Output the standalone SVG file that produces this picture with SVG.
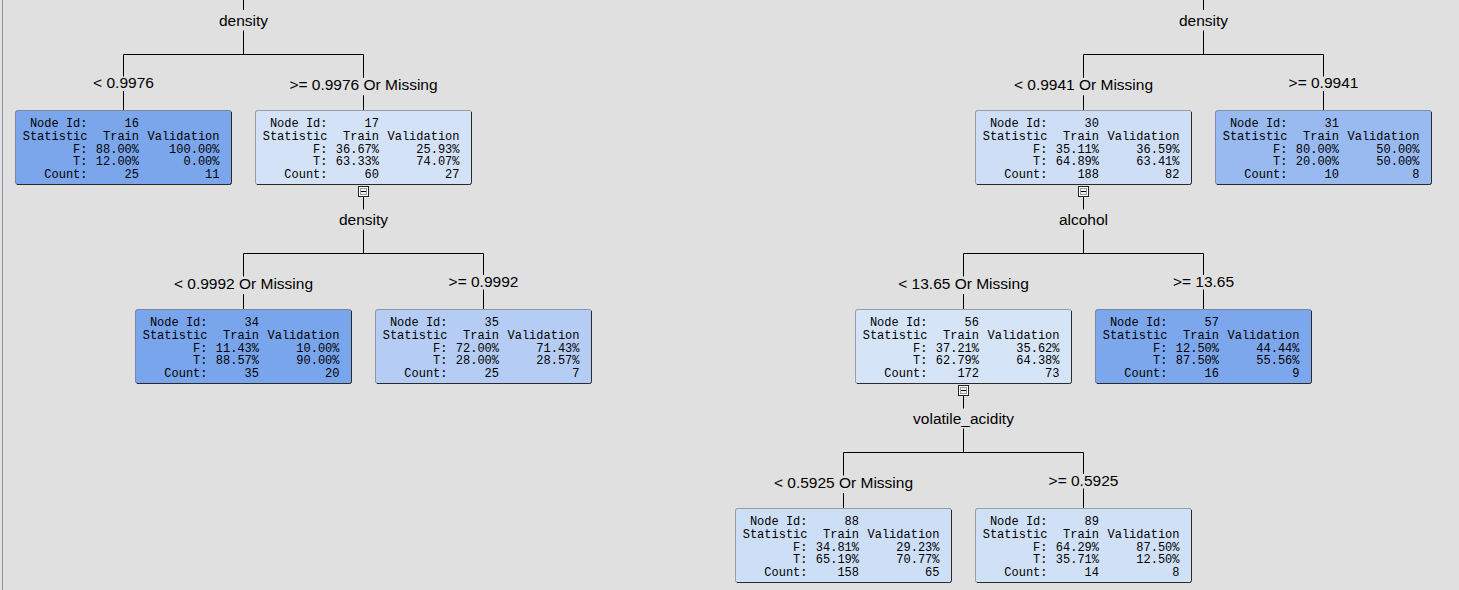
<svg xmlns="http://www.w3.org/2000/svg" xmlns:xlink="http://www.w3.org/1999/xlink" width="1459" height="590" viewBox="0 0 1459 590">
<style>
.lbl{font-family:"Liberation Sans",Arial,sans-serif;font-size:15.5px;fill:#000;text-anchor:middle}
.nt{font-family:"Liberation Mono","Courier New",monospace;font-size:12px;fill:#000;text-anchor:end}
.edge{stroke:#000;stroke-width:1;fill:none}
.box{stroke:#000;stroke-opacity:0.3;stroke-width:1}
.shade{stroke:#2a2a2a;stroke-width:1;fill:none}
</style>
<defs>
<g id="exp">
<rect x="0.5" y="0.5" width="10" height="10" fill="#fff" stroke="#222"/>
<rect x="2.5" y="2.5" width="6" height="6" fill="#f2f2f2" stroke="#9a9a9a"/>
<path d="M3,5.5 H8" stroke="#000"/>
</g>
<g id="frame">
<path class="shade" d="M216.5,2 V72.5 Q216.5,74.5 214.5,74.5 H2"/>
</g>
</defs>
<rect width="1459" height="590" fill="#e0e0e0"/>
<path d="M2.5,0 V590" stroke="#8f969e" stroke-width="1"/>

<g id="connectors" class="edge">
<path d="M243.5,0 V10 M243.5,30.5 V54.5 M123.5,54.5 H363.5 M123.5,54.5 V76.5 M123.5,91 V110 M363.5,54.5 V77.8 M363.5,95.3 V110"/>
<path d="M363.5,196.5 V209.5 M363.5,229.5 V253.5 M243.5,253.5 H483.5 M243.5,253.5 V276.5 M243.5,294 V309 M483.5,253.5 V275 M483.5,289.5 V309"/>
<path d="M1203.5,0 V10 M1203.5,30.5 V54.5 M1083.5,54.5 H1323.5 M1083.5,54.5 V77.8 M1083.5,95.3 V110 M1323.5,54.5 V76.5 M1323.5,91 V110"/>
<path d="M1083.5,196.5 V209.5 M1083.5,229.5 V253.5 M963.5,253.5 H1203.5 M963.5,253.5 V276.5 M963.5,294 V309 M1203.5,253.5 V275 M1203.5,289.5 V309"/>
<path d="M963.5,395.5 V408.5 M963.5,428.5 V452.5 M843.5,452.5 H1083.5 M843.5,452.5 V475.5 M843.5,493 V508 M1083.5,452.5 V474 M1083.5,488.5 V508"/>
</g>

<g id="labels" class="lbl">
<text x="243.5" y="26">density</text>
<text x="123.5" y="88">&lt; 0.9976</text>
<text x="363.5" y="90.3">&gt;= 0.9976 Or Missing</text>
<text x="363.5" y="224.7">density</text>
<text x="243.5" y="289">&lt; 0.9992 Or Missing</text>
<text x="483.5" y="286.5">&gt;= 0.9992</text>
<text x="1203.5" y="26">density</text>
<text x="1083.5" y="90.3">&lt; 0.9941 Or Missing</text>
<text x="1323.5" y="88">&gt;= 0.9941</text>
<text x="1083.5" y="224.7">alcohol</text>
<text x="963.5" y="289">&lt; 13.65 Or Missing</text>
<text x="1203.5" y="286.5">&gt;= 13.65</text>
<text x="963.5" y="423.7">volatile_acidity</text>
<text x="843.5" y="488">&lt; 0.5925 Or Missing</text>
<text x="1083.5" y="485.5">&gt;= 0.5925</text>
</g>

<g id="node-16" transform="translate(15,110)">
<rect class="box" x="0.5" y="0.5" width="216" height="74" rx="2" fill="rgb(123,166,236)"/>
<use xlink:href="#frame"/>
<text class="nt"><tspan x="72.5" y="17">Node Id:</tspan><tspan x="72.5" y="29.8">Statistic</tspan><tspan x="72.5" y="42.6">F:</tspan><tspan x="72.5" y="55.4">T:</tspan><tspan x="72.5" y="68.2">Count:</tspan></text>
<text class="nt"><tspan x="124" y="17">16</tspan><tspan x="124" y="29.8">Train</tspan><tspan x="124" y="42.6">88.00%</tspan><tspan x="124" y="55.4">12.00%</tspan><tspan x="124" y="68.2">25</tspan></text>
<text class="nt"><tspan x="204.5" y="29.8">Validation</tspan><tspan x="204.5" y="42.6">100.00%</tspan><tspan x="204.5" y="55.4">0.00%</tspan><tspan x="204.5" y="68.2">11</tspan></text>
</g>

<g id="node-17" transform="translate(255,110)">
<rect class="box" x="0.5" y="0.5" width="216" height="74" rx="2" fill="rgb(212,226,248)"/>
<use xlink:href="#frame"/>
<text class="nt"><tspan x="72.5" y="17">Node Id:</tspan><tspan x="72.5" y="29.8">Statistic</tspan><tspan x="72.5" y="42.6">F:</tspan><tspan x="72.5" y="55.4">T:</tspan><tspan x="72.5" y="68.2">Count:</tspan></text>
<text class="nt"><tspan x="124" y="17">17</tspan><tspan x="124" y="29.8">Train</tspan><tspan x="124" y="42.6">36.67%</tspan><tspan x="124" y="55.4">63.33%</tspan><tspan x="124" y="68.2">60</tspan></text>
<text class="nt"><tspan x="204.5" y="29.8">Validation</tspan><tspan x="204.5" y="42.6">25.93%</tspan><tspan x="204.5" y="55.4">74.07%</tspan><tspan x="204.5" y="68.2">27</tspan></text>
<use xlink:href="#exp" x="103" y="76"/>
</g>

<g id="node-34" transform="translate(135,309)">
<rect class="box" x="0.5" y="0.5" width="216" height="74" rx="2" fill="rgb(121,165,236)"/>
<use xlink:href="#frame"/>
<text class="nt"><tspan x="72.5" y="17">Node Id:</tspan><tspan x="72.5" y="29.8">Statistic</tspan><tspan x="72.5" y="42.6">F:</tspan><tspan x="72.5" y="55.4">T:</tspan><tspan x="72.5" y="68.2">Count:</tspan></text>
<text class="nt"><tspan x="124" y="17">34</tspan><tspan x="124" y="29.8">Train</tspan><tspan x="124" y="42.6">11.43%</tspan><tspan x="124" y="55.4">88.57%</tspan><tspan x="124" y="68.2">35</tspan></text>
<text class="nt"><tspan x="204.5" y="29.8">Validation</tspan><tspan x="204.5" y="42.6">10.00%</tspan><tspan x="204.5" y="55.4">90.00%</tspan><tspan x="204.5" y="68.2">20</tspan></text>
</g>

<g id="node-35" transform="translate(375,309)">
<rect class="box" x="0.5" y="0.5" width="216" height="74" rx="2" fill="rgb(181,205,244)"/>
<use xlink:href="#frame"/>
<text class="nt"><tspan x="72.5" y="17">Node Id:</tspan><tspan x="72.5" y="29.8">Statistic</tspan><tspan x="72.5" y="42.6">F:</tspan><tspan x="72.5" y="55.4">T:</tspan><tspan x="72.5" y="68.2">Count:</tspan></text>
<text class="nt"><tspan x="124" y="17">35</tspan><tspan x="124" y="29.8">Train</tspan><tspan x="124" y="42.6">72.00%</tspan><tspan x="124" y="55.4">28.00%</tspan><tspan x="124" y="68.2">25</tspan></text>
<text class="nt"><tspan x="204.5" y="29.8">Validation</tspan><tspan x="204.5" y="42.6">71.43%</tspan><tspan x="204.5" y="55.4">28.57%</tspan><tspan x="204.5" y="68.2">7</tspan></text>
</g>

<g id="node-30" transform="translate(975,110)">
<rect class="box" x="0.5" y="0.5" width="216" height="74" rx="2" fill="rgb(206,222,247)"/>
<use xlink:href="#frame"/>
<text class="nt"><tspan x="72.5" y="17">Node Id:</tspan><tspan x="72.5" y="29.8">Statistic</tspan><tspan x="72.5" y="42.6">F:</tspan><tspan x="72.5" y="55.4">T:</tspan><tspan x="72.5" y="68.2">Count:</tspan></text>
<text class="nt"><tspan x="124" y="17">30</tspan><tspan x="124" y="29.8">Train</tspan><tspan x="124" y="42.6">35.11%</tspan><tspan x="124" y="55.4">64.89%</tspan><tspan x="124" y="68.2">188</tspan></text>
<text class="nt"><tspan x="204.5" y="29.8">Validation</tspan><tspan x="204.5" y="42.6">36.59%</tspan><tspan x="204.5" y="55.4">63.41%</tspan><tspan x="204.5" y="68.2">82</tspan></text>
<use xlink:href="#exp" x="103" y="76"/>
</g>

<g id="node-31" transform="translate(1215,110)">
<rect class="box" x="0.5" y="0.5" width="216" height="74" rx="2" fill="rgb(152,186,240)"/>
<use xlink:href="#frame"/>
<text class="nt"><tspan x="72.5" y="17">Node Id:</tspan><tspan x="72.5" y="29.8">Statistic</tspan><tspan x="72.5" y="42.6">F:</tspan><tspan x="72.5" y="55.4">T:</tspan><tspan x="72.5" y="68.2">Count:</tspan></text>
<text class="nt"><tspan x="124" y="17">31</tspan><tspan x="124" y="29.8">Train</tspan><tspan x="124" y="42.6">80.00%</tspan><tspan x="124" y="55.4">20.00%</tspan><tspan x="124" y="68.2">10</tspan></text>
<text class="nt"><tspan x="204.5" y="29.8">Validation</tspan><tspan x="204.5" y="42.6">50.00%</tspan><tspan x="204.5" y="55.4">50.00%</tspan><tspan x="204.5" y="68.2">8</tspan></text>
</g>

<g id="node-56" transform="translate(855,309)">
<rect class="box" x="0.5" y="0.5" width="216" height="74" rx="2" fill="rgb(214,228,248)"/>
<use xlink:href="#frame"/>
<text class="nt"><tspan x="72.5" y="17">Node Id:</tspan><tspan x="72.5" y="29.8">Statistic</tspan><tspan x="72.5" y="42.6">F:</tspan><tspan x="72.5" y="55.4">T:</tspan><tspan x="72.5" y="68.2">Count:</tspan></text>
<text class="nt"><tspan x="124" y="17">56</tspan><tspan x="124" y="29.8">Train</tspan><tspan x="124" y="42.6">37.21%</tspan><tspan x="124" y="55.4">62.79%</tspan><tspan x="124" y="68.2">172</tspan></text>
<text class="nt"><tspan x="204.5" y="29.8">Validation</tspan><tspan x="204.5" y="42.6">35.62%</tspan><tspan x="204.5" y="55.4">64.38%</tspan><tspan x="204.5" y="68.2">73</tspan></text>
<use xlink:href="#exp" x="103" y="76"/>
</g>

<g id="node-57" transform="translate(1095,309)">
<rect class="box" x="0.5" y="0.5" width="216" height="74" rx="2" fill="rgb(125,167,236)"/>
<use xlink:href="#frame"/>
<text class="nt"><tspan x="72.5" y="17">Node Id:</tspan><tspan x="72.5" y="29.8">Statistic</tspan><tspan x="72.5" y="42.6">F:</tspan><tspan x="72.5" y="55.4">T:</tspan><tspan x="72.5" y="68.2">Count:</tspan></text>
<text class="nt"><tspan x="124" y="17">57</tspan><tspan x="124" y="29.8">Train</tspan><tspan x="124" y="42.6">12.50%</tspan><tspan x="124" y="55.4">87.50%</tspan><tspan x="124" y="68.2">16</tspan></text>
<text class="nt"><tspan x="204.5" y="29.8">Validation</tspan><tspan x="204.5" y="42.6">44.44%</tspan><tspan x="204.5" y="55.4">55.56%</tspan><tspan x="204.5" y="68.2">9</tspan></text>
</g>

<g id="node-88" transform="translate(735,508)">
<rect class="box" x="0.5" y="0.5" width="216" height="74" rx="2" fill="rgb(205,222,247)"/>
<use xlink:href="#frame"/>
<text class="nt"><tspan x="72.5" y="17">Node Id:</tspan><tspan x="72.5" y="29.8">Statistic</tspan><tspan x="72.5" y="42.6">F:</tspan><tspan x="72.5" y="55.4">T:</tspan><tspan x="72.5" y="68.2">Count:</tspan></text>
<text class="nt"><tspan x="124" y="17">88</tspan><tspan x="124" y="29.8">Train</tspan><tspan x="124" y="42.6">34.81%</tspan><tspan x="124" y="55.4">65.19%</tspan><tspan x="124" y="68.2">158</tspan></text>
<text class="nt"><tspan x="204.5" y="29.8">Validation</tspan><tspan x="204.5" y="42.6">29.23%</tspan><tspan x="204.5" y="55.4">70.77%</tspan><tspan x="204.5" y="68.2">65</tspan></text>
</g>

<g id="node-89" transform="translate(975,508)">
<rect class="box" x="0.5" y="0.5" width="216" height="74" rx="2" fill="rgb(208,224,247)"/>
<use xlink:href="#frame"/>
<text class="nt"><tspan x="72.5" y="17">Node Id:</tspan><tspan x="72.5" y="29.8">Statistic</tspan><tspan x="72.5" y="42.6">F:</tspan><tspan x="72.5" y="55.4">T:</tspan><tspan x="72.5" y="68.2">Count:</tspan></text>
<text class="nt"><tspan x="124" y="17">89</tspan><tspan x="124" y="29.8">Train</tspan><tspan x="124" y="42.6">64.29%</tspan><tspan x="124" y="55.4">35.71%</tspan><tspan x="124" y="68.2">14</tspan></text>
<text class="nt"><tspan x="204.5" y="29.8">Validation</tspan><tspan x="204.5" y="42.6">87.50%</tspan><tspan x="204.5" y="55.4">12.50%</tspan><tspan x="204.5" y="68.2">8</tspan></text>
</g>
</svg>
